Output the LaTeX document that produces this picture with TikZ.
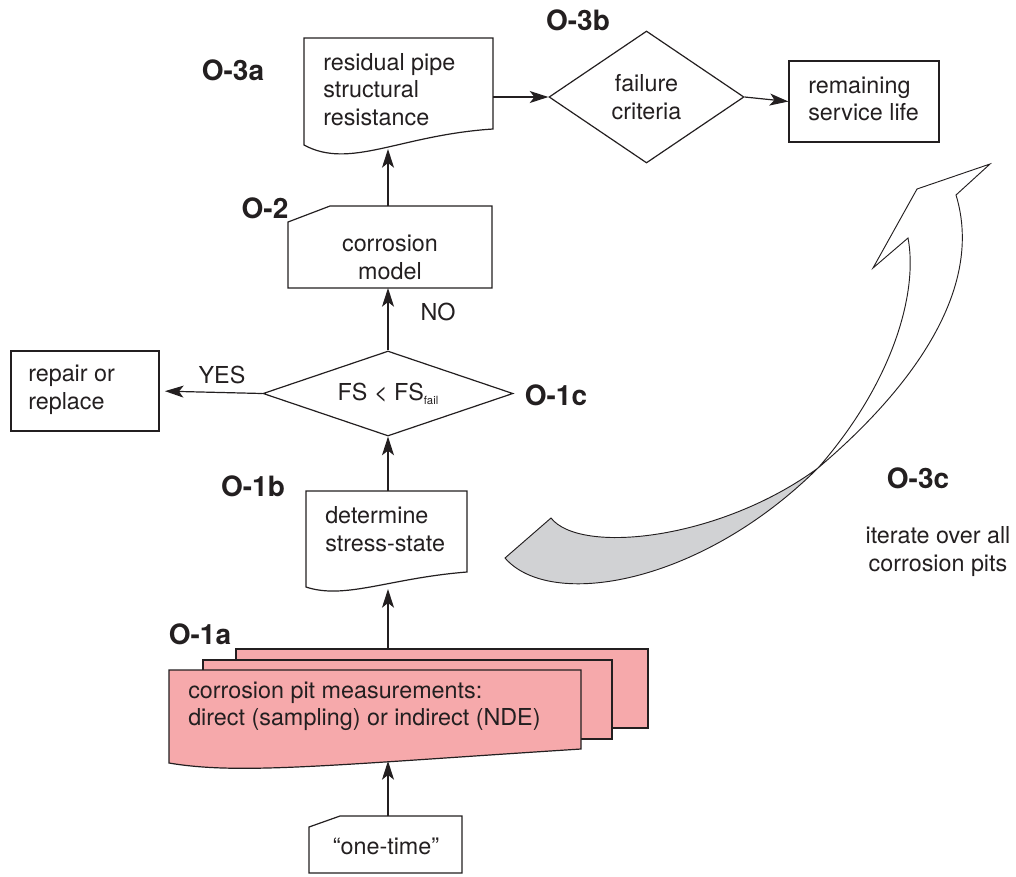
\documentclass[tikz,border=0pt]{standalone}
\usepackage{fontspec}
\setmainfont{TeX Gyre Heros}
\usetikzlibrary{shapes.geometric,arrows.meta}
\definecolor{pinkfill}{RGB}{246,169,171}
\definecolor{tailgray}{RGB}{209,210,212}
\definecolor{ink}{RGB}{35,31,32}
\begin{document}
\begin{tikzpicture}[x=0.75pt,y=-0.75pt,
  every node/.style={font=\fontsize{17.5}{20.6}\selectfont, inner sep=0pt, text=ink},
  lbl/.style={font=\fontsize{21}{24}\selectfont\bfseries},
  shp/.style={draw=ink, line width=0.9pt},
  conn/.style={draw=ink, line width=0.9pt, -{Stealth[length=14pt,width=9pt,inset=3.5pt]}},
  txtl/.style={align=left, anchor=west},
  txtc/.style={align=center},
  dia/.style={shape=diamond, shp, align=center},
  rbox/.style={shp, rectangle}
]
\useasboundingbox (0,0) rectangle (1016,876);

% ---------- O-3a residual pipe (document shape)
\draw[shp, fill=white] (304,145) -- (304,38) -- (493,38) -- (493,129)
  .. controls (400,135) and (350,170) .. (304,145) -- cycle;
\node[txtl] (resT) at (323,89.5) {residual pipe\\structural\\resistance};
\coordinate (resRight) at (493,97);
\coordinate (resBot) at (388,149);

% ---------- O-3b failure criteria
\node[dia, shape aspect=1.5, minimum width=146.25pt, minimum height=99pt] (fail) at (646.5,97) {failure\\criteria};

% ---------- remaining service life
\node[rbox, minimum width=112.5pt, minimum height=60.75pt] (remain) at (864,101.5) {};
\node[txtl] (remT) at (808,99) {remaining\\service life};

% ---------- O-2 corrosion model (card)
\draw[shp, fill=white] (288,222) -- (330,206) -- (492,206) -- (492,288) -- (288,288) -- cycle;
\node[txtc] (modelT) at (390,257.5) {corrosion\\model};
\coordinate (modelTop) at (388,206);
\coordinate (modelBot) at (388,288);

% ---------- O-1c FS < FS_fail
\node[dia, shape aspect=3, minimum width=187.5pt, minimum height=63.75pt] (fs) at (388,393.5)
  {FS < FS\raisebox{-3pt}{\fontsize{8.5}{9}\selectfont fail}};

% ---------- repair or replace
\node[rbox, minimum width=111pt, minimum height=60pt] (repair) at (85,391) {};
\node[txtl] (repT) at (28,390) {repair or\\replace};

% ---------- O-1b determine stress-state (document)
\draw[shp, fill=white] (306,587) -- (306,491) -- (467,491) -- (467,572)
  .. controls (390,578) and (345,600) .. (306,587) -- cycle;
\node[txtl] (detT) at (325,529) {determine\\stress-state};
\coordinate (detTop) at (388,491);
\coordinate (detBot) at (388,589);

% ---------- O-1a corrosion pit measurements (stacked documents)
\draw[shp, fill=pinkfill] (236,649) rectangle (648,728);
\draw[shp, fill=pinkfill] (203,660) rectangle (612,739);
\draw[shp, fill=pinkfill] (169,763) -- (169,670) -- (581,670) -- (581,749)
  .. controls (330,765) and (240,775) .. (169,763) -- cycle;
\node[txtl] (pinkT) at (188,706.5) {corrosion pit measurements:\\direct (sampling) or indirect (NDE)};
\coordinate (pinkTop) at (388,649);
\coordinate (pinkBot) at (388,761);

% ---------- one-time (card)
\draw[shp, fill=white] (309,827) -- (340,816) -- (462,816) -- (462,873) -- (309,873) -- cycle;
\node (oneT) at (386,846) {“one-time”};
\coordinate (oneTop) at (388,816);

% ---------- connectors
\draw[conn] (resRight) -- (fail.west);
\draw[conn] (fail.east) -- (remain.west);
\draw[conn] (modelTop) -- (resBot);
\draw[conn] (fs.north) -- (modelBot);
\draw[conn, shorten >=4pt] (fs.west) -- (repair.east);
\draw[conn] (detTop) -- (fs.south);
\draw[conn] (pinkTop) -- (detBot);
\draw[conn] (oneTop) -- (pinkBot);

\node (yes) at (222,375) {YES};
\node (no) at (438,312) {NO};

% ---------- labels
\node[lbl] (l3a) at (233,70) {O-3a};
\node[lbl] (l3b) at (578,20) {O-3b};
\node[lbl] (l2) at (265,208) {O-2};
\node[lbl] (l1c) at (556,395) {O-1c};
\node[lbl] (l1b) at (253,486) {O-1b};
\node[lbl] (l1a) at (200,634) {O-1a};
\node[lbl] (l3c) at (918,478) {O-3c};
\node[txtc] (iterT) at (938,551.5) {iterate over all\\corrosion pits};

% ---------- O-3c big twisted arrow
\draw[draw=ink, line width=0.7pt, fill=tailgray]
  (551,518) .. controls (580,555) and (720,540) .. (818,468)
  .. controls (700,585) and (550,610) .. (505,558) -- cycle;
\draw[draw=ink, line width=0.7pt, fill=white]
  (818,468) .. controls (910,390) and (985,290) .. (956,195)
  -- (990,164) -- (917,189) -- (873,268) -- (908,238)
  .. controls (918,290) and (895,380) .. (818,468) -- cycle;
\end{tikzpicture}
\end{document}
